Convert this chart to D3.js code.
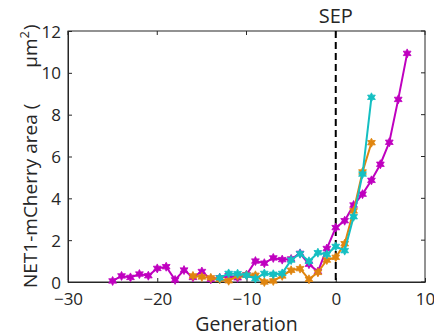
<!DOCTYPE html>
<html>
<head>
<meta charset="utf-8">
<script src="https://cdn.jsdelivr.net/npm/d3@7"></script>
<style>
  body { margin: 0; background: #fff; }
  text { font-family: "Open Sans", "DejaVu Sans", sans-serif; fill: #262626; }
</style>
</head>
<body>
<div id="chart"></div>
<script>
// generations for each lineage
const genMagenta = [-25,-24,-23,-22,-21,-20,-19,-18,-17,-16,-15,-14,-13,-12,-11,-10,-9,-8,-7,-6,-5,-4,-3,-2,-1,0,1,2,3,4,5,6,7,8];
const areaMagenta = [0.05,0.29,0.22,0.38,0.3,0.65,0.73,0.1,0.57,0.22,0.5,0.13,0.2,0.3,0.2,0.35,1.0,0.9,1.15,1.07,1.1,1.37,0.85,0.5,1.6,2.6,2.93,3.68,4.2,4.86,5.63,6.68,8.73,10.93];

const genOrange = [-16,-15,-14,-13,-12,-11,-10,-9,-8,-7,-6,-5,-4,-3,-2,-1,0,1,2,3,4];
const areaOrange = [0.29,0.24,0.2,0.13,0.06,0.29,0.33,0.32,0.0,0.05,0.29,0.56,0.64,0.13,0.46,1.05,1.18,1.83,3.4,5.26,6.66];

const genCyan = [-13,-12,-11,-10,-9,-8,-7,-6,-5,-4,-3,-2,-1,0,1,2,3,4];
const areaCyan = [0.2,0.41,0.4,0.32,0.16,0.41,0.37,0.41,1.05,1.35,0.99,1.4,1.32,1.7,1.5,3.12,5.16,8.83];

const xTicks = [-30,-20,-10,0,10];
const yTicks = [0,2,4,6,8,10,12];

const W = 434, H = 336;
const m = {left: 68, right: 9, top: 31, bottom: 54};

const svg = d3.select("#chart").append("svg")
  .attr("width", W)
  .attr("height", H);

const x = d3.scaleLinear().domain([-30, 10]).range([m.left, W - m.right]);
const y = d3.scaleLinear().domain([0, 12]).range([H - m.bottom, m.top]);

// box
svg.append("rect")
  .attr("x", x(-30)).attr("y", y(12))
  .attr("width", x(10) - x(-30)).attr("height", y(0) - y(12))
  .attr("fill", "none").attr("stroke", "#262626").attr("stroke-width", 1);

const xAxis = svg.append("g")
  .attr("transform", `translate(0,${y(0)})`)
  .call(d3.axisBottom(x).tickValues(xTicks).tickSizeInner(-4).tickSizeOuter(0).tickPadding(11));
const yAxis = svg.append("g")
  .attr("transform", `translate(${x(-30)},0)`)
  .call(d3.axisLeft(y).tickValues(yTicks).tickSizeInner(-4).tickSizeOuter(0).tickPadding(7));

[xAxis, yAxis].forEach(g => {
  g.select(".domain").attr("stroke", "#262626");
  g.selectAll(".tick line").attr("stroke", "#262626");
  g.selectAll(".tick text")
    .attr("font-size", 17)
    .style("font-family", '"Open Sans", sans-serif')
    .attr("fill", "#262626");
});
yAxis.selectAll(".tick text").attr("dy", "0.36em");

// top / right ticks
svg.append("g").selectAll("line").data(xTicks).join("line")
  .attr("x1", d => x(d)).attr("x2", d => x(d))
  .attr("y1", y(12)).attr("y2", y(12) + 4)
  .attr("stroke", "#262626");
svg.append("g").selectAll("line").data(yTicks).join("line")
  .attr("x1", x(10)).attr("x2", x(10) - 4)
  .attr("y1", d => y(d)).attr("y2", d => y(d))
  .attr("stroke", "#262626");

// SEP dashed line
svg.append("line")
  .attr("x1", x(0)).attr("x2", x(0))
  .attr("y1", y(12)).attr("y2", y(0))
  .attr("stroke", "#000").attr("stroke-width", 2)
  .attr("stroke-dasharray", "7,4");

svg.append("text")
  .attr("x", x(0)).attr("y", 23)
  .attr("text-anchor", "middle")
  .attr("font-size", 20)
  .text("SEP");

// six pointed star marker
function hexagram(r) {
  const pts = [];
  for (let i = 0; i < 12; i++) {
    const a = Math.PI / 6 * i - Math.PI / 2;
    const rr = i % 2 === 0 ? r : r * 0.55;
    pts.push([rr * Math.cos(a), rr * Math.sin(a)]);
  }
  return "M" + pts.map(p => p.join(",")).join("L") + "Z";
}

const series = [
  {gen: genMagenta, val: areaMagenta, color: "#bf00bf"},
  {gen: genOrange, val: areaOrange, color: "#e0850f"},
  {gen: genCyan, val: areaCyan, color: "#14bfc2"}
];

const line = d3.line().x(d => x(d[0])).y(d => y(d[1]));

series.forEach(s => {
  const pts = s.gen.map((g, i) => [g, s.val[i]]);
  svg.append("path")
    .datum(pts)
    .attr("d", line)
    .attr("fill", "none")
    .attr("stroke", s.color)
    .attr("stroke-width", 2);
  svg.append("g").selectAll("path").data(pts).join("path")
    .attr("transform", d => `translate(${x(d[0])},${y(d[1])})`)
    .attr("d", hexagram(4.5))
    .attr("fill", s.color)
    .attr("stroke", s.color)
    .attr("stroke-width", 0.8);
});

// axis labels
svg.append("text")
  .attr("x", (x(-30) + x(10)) / 2).attr("y", 331)
  .attr("text-anchor", "middle")
  .attr("font-size", 19.5)
  .text("Generation");

const yl = svg.append("text")
  .attr("transform", "translate(37,288) rotate(-90)")
  .attr("text-anchor", "start")
  .attr("font-size", 19);
yl.append("tspan").text("NET1-mCherry area (");
yl.append("tspan").attr("dx", 36).text("μm");
yl.append("tspan").attr("dy", -8).attr("font-size", 13).text("2");
yl.append("tspan").attr("dy", 8).attr("dx", 1).text(")");
</script>
</body>
</html>
